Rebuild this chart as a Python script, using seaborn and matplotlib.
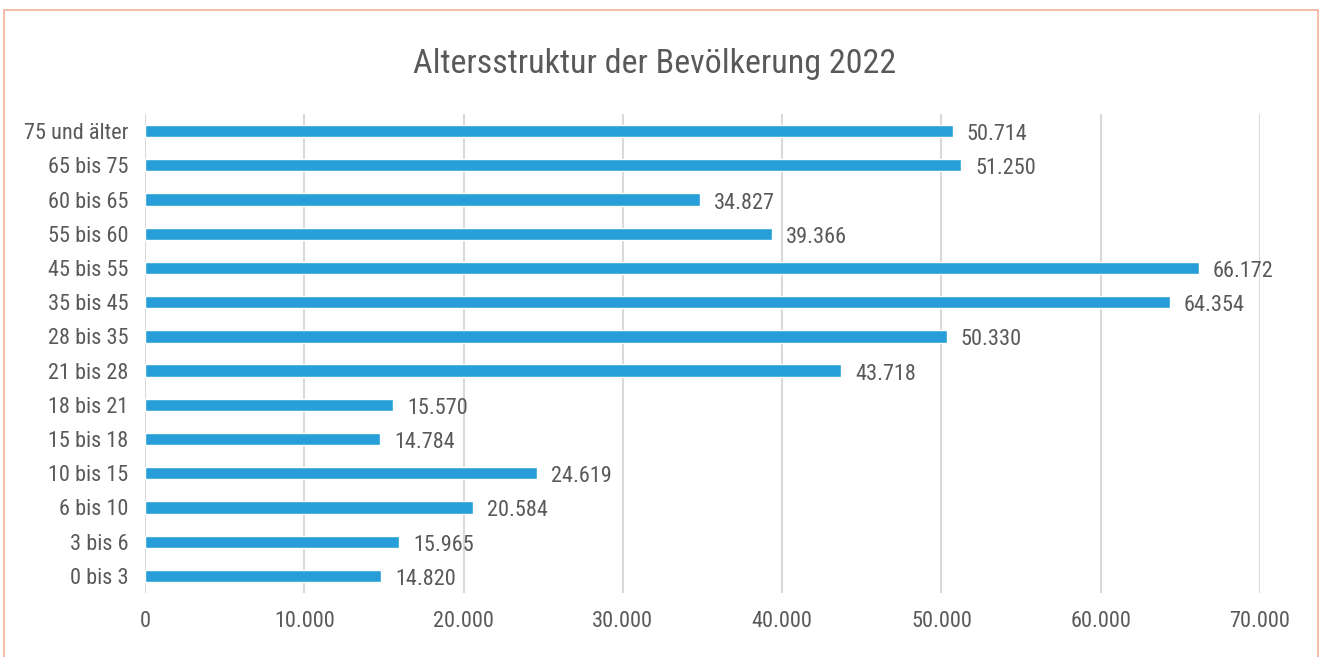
import pandas as pd
import matplotlib.pyplot as plt
import matplotlib.ticker as mticker
import seaborn as sns

altersgruppen = ['75 und älter', '65 bis 75', '60 bis 65', '55 bis 60', '45 bis 55',
                 '35 bis 45', '28 bis 35', '21 bis 28', '18 bis 21', '15 bis 18',
                 '10 bis 15', '6 bis 10', '3 bis 6', '0 bis 3']
einwohner = [50714, 51250, 34827, 39366, 66172, 64354, 50330, 43718,
             15570, 14784, 24619, 20584, 15965, 14820]
x_ticks = [0, 10000, 20000, 30000, 40000, 50000, 60000, 70000]

df = pd.DataFrame({'Altersgruppe': altersgruppen, 'Einwohner': einwohner})

sns.set_style('white')
plt.rcParams['font.family'] = ['Roboto Condensed', 'DejaVu Sans']
textfarbe = '#595959'

fig = plt.figure(figsize=(13.21, 6.57), dpi=100)
ax = fig.add_axes([145 / 1321, 1 - 593 / 657, 1115 / 1321, 479 / 657])

sns.barplot(data=df, x='Einwohner', y='Altersgruppe', orient='h',
            color='#279ed8', saturation=1, width=0.36, ax=ax)

# Datenbeschriftungen rechts neben den Balken
for bar, wert in zip(ax.patches, df['Einwohner']):
    ax.annotate(f'{wert:,}'.replace(',', '.'),
                xy=(bar.get_width(), bar.get_y() + bar.get_height() / 2),
                xytext=(10, -2.5), textcoords='offset points',
                ha='left', va='center', fontsize=16, color=textfarbe)

ax.set_xlim(0, 70000)
ax.set_xticks(x_ticks)
ax.xaxis.set_major_formatter(mticker.FuncFormatter(lambda v, p: f'{int(v):,}'.replace(',', '.')))
ax.grid(axis='x', color='#d9d9d9', linewidth=1.5)
ax.set_axisbelow(True)
ax.set_xlabel('')
ax.set_ylabel('')
for s in ax.spines.values():
    s.set_visible(False)
ax.tick_params(axis='y', length=0, pad=12, labelsize=16, labelcolor=textfarbe)
ax.tick_params(axis='x', length=0, pad=13, labelsize=16, labelcolor=textfarbe)

fig.text(655 / 1321, 1 - 64 / 657, 'Altersstruktur der Bevölkerung 2022',
         ha='center', va='center', fontsize=24.5, color=textfarbe)

# Rahmen um das Diagramm
rahmen = '#f2b8a0'
fig.add_artist(plt.Line2D([4 / 1321, 4 / 1321], [0, 1 - 10 / 657], transform=fig.transFigure, color=rahmen, lw=1.3))
fig.add_artist(plt.Line2D([4 / 1321, 1318 / 1321], [1 - 10 / 657, 1 - 10 / 657], transform=fig.transFigure, color=rahmen, lw=1.3))
fig.add_artist(plt.Line2D([1318 / 1321, 1318 / 1321], [0, 1 - 10 / 657], transform=fig.transFigure, color=rahmen, lw=1.3))

fig.savefig('out.png', dpi=100)
